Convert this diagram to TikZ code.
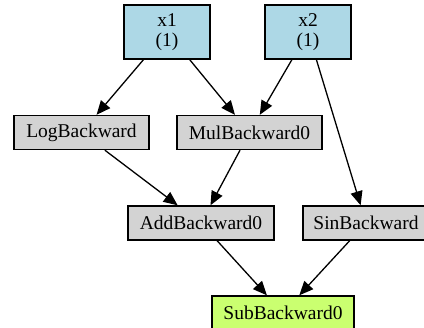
\documentclass[tikz,border=0pt]{standalone}
\usepackage{fontspec}
\setmainfont{Liberation Serif}
\usetikzlibrary{arrows.meta}
\definecolor{inblue}{HTML}{ADD8E6}
\definecolor{opgray}{HTML}{D3D3D3}
\definecolor{outgreen}{HTML}{CAFF70}
\begin{document}
\begin{tikzpicture}[x=1pt,y=-1pt,
  box/.style={draw=black, line width=1.4pt, inner sep=0pt, align=center,
    font=\fontsize{19.5}{19}\selectfont},
  inbox/.style={box, fill=inblue, minimum width=86pt, minimum height=54pt},
  opbox/.style={box, fill=opgray, minimum height=34pt},
  outbox/.style={box, fill=outgreen, minimum height=34pt},
  edge/.style={line width=1.3pt, -{Triangle[length=14pt,width=12pt]}}]
\clip (0,0) rectangle (424,328);
\node[inbox] (x1) at (167,32) {x1\\[1pt](1)};
\node[inbox] (x2) at (308,32) {x2\\[1pt](1)};
\node[opbox, minimum width=135pt] (logb) at (81.5,132.5) {LogBackward};
\node[opbox, minimum width=145pt] (mulb) at (249.5,132.5) {MulBackward0};
\node[opbox, minimum width=146pt] (addb) at (201,223) {AddBackward0};
\node[opbox, minimum width=126pt] (sinb) at (366,223) {SinBackward};
\node[outbox, minimum width=142pt] (subb) at (283,313) {SubBackward0};
\draw[edge] (x1) -- (logb);
\draw[edge] (x1) -- (mulb);
\draw[edge] (x2) -- (mulb);
\draw[edge] (x2) -- (sinb);
\draw[edge] (logb) -- (addb);
\draw[edge] (mulb) -- (addb);
\draw[edge] (addb) -- (subb);
\draw[edge] (sinb) -- (subb);
\end{tikzpicture}
\end{document}
